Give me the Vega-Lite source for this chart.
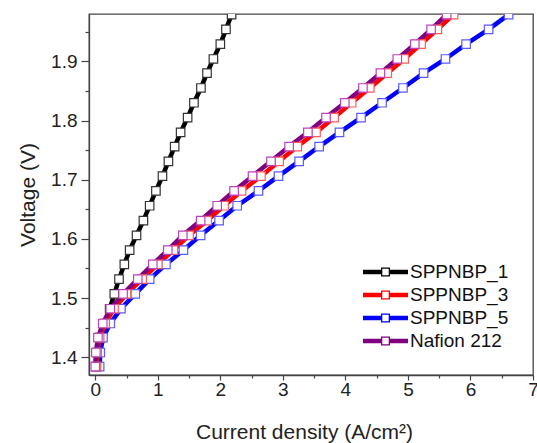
{
  "$schema": "https://vega.github.io/schema/vega-lite/v6.json",
  "width": 444,
  "height": 361,
  "autosize": {"type": "none"},
  "padding": {"left": 89, "top": 14, "right": 4, "bottom": 68},
  "background": "white",
  "config": {
    "view": {"stroke": "#444", "strokeWidth": 1.3},
    "font": "Liberation Sans",
    "axis": {
      "grid": false,
      "domainColor": "#444",
      "domainWidth": 1.3,
      "tickColor": "#444",
      "tickWidth": 1.2,
      "labelFont": "Liberation Sans",
      "labelFontSize": 19,
      "labelColor": "#222",
      "titleFont": "Liberation Sans",
      "titleFontSize": 21,
      "titleFontWeight": "normal",
      "titleColor": "#222"
    }
  },
  "data": {
    "values": [
      {"s": "SPPNBP_1", "j": 0.01, "v": 1.384}, {"s": "SPPNBP_1", "j": 0.03, "v": 1.408}, {"s": "SPPNBP_1", "j": 0.08, "v": 1.433}, {"s": "SPPNBP_1", "j": 0.15, "v": 1.457}, {"s": "SPPNBP_1", "j": 0.23, "v": 1.482}, {"s": "SPPNBP_1", "j": 0.305, "v": 1.507}, {"s": "SPPNBP_1", "j": 0.38, "v": 1.532}, {"s": "SPPNBP_1", "j": 0.465, "v": 1.557}, {"s": "SPPNBP_1", "j": 0.55, "v": 1.581}, {"s": "SPPNBP_1", "j": 0.66, "v": 1.606}, {"s": "SPPNBP_1", "j": 0.77, "v": 1.631}, {"s": "SPPNBP_1", "j": 0.87, "v": 1.656}, {"s": "SPPNBP_1", "j": 0.97, "v": 1.681}, {"s": "SPPNBP_1", "j": 1.075, "v": 1.706}, {"s": "SPPNBP_1", "j": 1.17, "v": 1.731}, {"s": "SPPNBP_1", "j": 1.27, "v": 1.756}, {"s": "SPPNBP_1", "j": 1.365, "v": 1.78}, {"s": "SPPNBP_1", "j": 1.477, "v": 1.805}, {"s": "SPPNBP_1", "j": 1.578, "v": 1.83}, {"s": "SPPNBP_1", "j": 1.69, "v": 1.855}, {"s": "SPPNBP_1", "j": 1.787, "v": 1.88}, {"s": "SPPNBP_1", "j": 1.889, "v": 1.904}, {"s": "SPPNBP_1", "j": 2.0, "v": 1.929}, {"s": "SPPNBP_1", "j": 2.09, "v": 1.954}, {"s": "SPPNBP_1", "j": 2.18, "v": 1.979},
      {"s": "SPPNBP_5", "j": 0.07, "v": 1.384}, {"s": "SPPNBP_5", "j": 0.08, "v": 1.408}, {"s": "SPPNBP_5", "j": 0.124, "v": 1.433}, {"s": "SPPNBP_5", "j": 0.24, "v": 1.457}, {"s": "SPPNBP_5", "j": 0.41, "v": 1.482}, {"s": "SPPNBP_5", "j": 0.64, "v": 1.507}, {"s": "SPPNBP_5", "j": 0.87, "v": 1.532}, {"s": "SPPNBP_5", "j": 1.13, "v": 1.557}, {"s": "SPPNBP_5", "j": 1.41, "v": 1.581}, {"s": "SPPNBP_5", "j": 1.685, "v": 1.606}, {"s": "SPPNBP_5", "j": 1.98, "v": 1.631}, {"s": "SPPNBP_5", "j": 2.27, "v": 1.656}, {"s": "SPPNBP_5", "j": 2.61, "v": 1.681}, {"s": "SPPNBP_5", "j": 2.93, "v": 1.706}, {"s": "SPPNBP_5", "j": 3.26, "v": 1.731}, {"s": "SPPNBP_5", "j": 3.58, "v": 1.756}, {"s": "SPPNBP_5", "j": 3.905, "v": 1.78}, {"s": "SPPNBP_5", "j": 4.25, "v": 1.805}, {"s": "SPPNBP_5", "j": 4.586, "v": 1.83}, {"s": "SPPNBP_5", "j": 4.92, "v": 1.855}, {"s": "SPPNBP_5", "j": 5.25, "v": 1.88}, {"s": "SPPNBP_5", "j": 5.6, "v": 1.904}, {"s": "SPPNBP_5", "j": 5.93, "v": 1.929}, {"s": "SPPNBP_5", "j": 6.29, "v": 1.954}, {"s": "SPPNBP_5", "j": 6.61, "v": 1.979},
      {"s": "SPPNBP_3", "j": 0.02, "v": 1.384}, {"s": "SPPNBP_3", "j": 0.03, "v": 1.408}, {"s": "SPPNBP_3", "j": 0.07, "v": 1.433}, {"s": "SPPNBP_3", "j": 0.16, "v": 1.457}, {"s": "SPPNBP_3", "j": 0.3, "v": 1.482}, {"s": "SPPNBP_3", "j": 0.5, "v": 1.507}, {"s": "SPPNBP_3", "j": 0.75, "v": 1.532}, {"s": "SPPNBP_3", "j": 1.0, "v": 1.557}, {"s": "SPPNBP_3", "j": 1.25, "v": 1.581}, {"s": "SPPNBP_3", "j": 1.5, "v": 1.606}, {"s": "SPPNBP_3", "j": 1.79, "v": 1.631}, {"s": "SPPNBP_3", "j": 2.06, "v": 1.656}, {"s": "SPPNBP_3", "j": 2.34, "v": 1.681}, {"s": "SPPNBP_3", "j": 2.65, "v": 1.706}, {"s": "SPPNBP_3", "j": 2.94, "v": 1.731}, {"s": "SPPNBP_3", "j": 3.23, "v": 1.756}, {"s": "SPPNBP_3", "j": 3.53, "v": 1.78}, {"s": "SPPNBP_3", "j": 3.82, "v": 1.805}, {"s": "SPPNBP_3", "j": 4.1, "v": 1.83}, {"s": "SPPNBP_3", "j": 4.39, "v": 1.855}, {"s": "SPPNBP_3", "j": 4.67, "v": 1.88}, {"s": "SPPNBP_3", "j": 4.94, "v": 1.904}, {"s": "SPPNBP_3", "j": 5.21, "v": 1.929}, {"s": "SPPNBP_3", "j": 5.47, "v": 1.954}, {"s": "SPPNBP_3", "j": 5.73, "v": 1.979},
      {"s": "Nafion 212", "j": 0.0, "v": 1.384}, {"s": "Nafion 212", "j": 0.01, "v": 1.408}, {"s": "Nafion 212", "j": 0.043, "v": 1.433}, {"s": "Nafion 212", "j": 0.12, "v": 1.457}, {"s": "Nafion 212", "j": 0.24, "v": 1.482}, {"s": "Nafion 212", "j": 0.445, "v": 1.507}, {"s": "Nafion 212", "j": 0.68, "v": 1.532}, {"s": "Nafion 212", "j": 0.92, "v": 1.557}, {"s": "Nafion 212", "j": 1.16, "v": 1.581}, {"s": "Nafion 212", "j": 1.4, "v": 1.606}, {"s": "Nafion 212", "j": 1.685, "v": 1.631}, {"s": "Nafion 212", "j": 1.95, "v": 1.656}, {"s": "Nafion 212", "j": 2.22, "v": 1.681}, {"s": "Nafion 212", "j": 2.515, "v": 1.706}, {"s": "Nafion 212", "j": 2.81, "v": 1.731}, {"s": "Nafion 212", "j": 3.1, "v": 1.756}, {"s": "Nafion 212", "j": 3.4, "v": 1.78}, {"s": "Nafion 212", "j": 3.69, "v": 1.805}, {"s": "Nafion 212", "j": 3.99, "v": 1.83}, {"s": "Nafion 212", "j": 4.28, "v": 1.855}, {"s": "Nafion 212", "j": 4.56, "v": 1.88}, {"s": "Nafion 212", "j": 4.83, "v": 1.904}, {"s": "Nafion 212", "j": 5.11, "v": 1.929}, {"s": "Nafion 212", "j": 5.37, "v": 1.954}, {"s": "Nafion 212", "j": 5.62, "v": 1.979}
    ]
  },
  "resolve": {"axis": {"x": "independent", "y": "independent"}},
  "layer": [
    {
      "mark": {"type": "line", "strokeWidth": 4.5, "clip": true},
      "encoding": {
        "x": {
          "field": "j", "type": "quantitative",
          "scale": {"domain": [-0.1, 7], "nice": false, "zero": false},
          "axis": {"orient": "bottom", "title": "Current density (A/cm²)", "values": [0, 1, 2, 3, 4, 5, 6, 7], "format": "d", "tickSize": 5, "labelPadding": 0, "titlePadding": 22, "titleX": 215, "labelFlush": false}
        },
        "y": {
          "field": "v", "type": "quantitative",
          "scale": {"domain": [1.37, 1.98], "nice": false, "zero": false},
          "axis": {"orient": "left", "title": "Voltage (V)", "values": [1.4, 1.5, 1.6, 1.7, 1.8, 1.9], "format": ".1f", "tickSize": 8, "labelPadding": 4, "titlePadding": 12, "labelFlush": false}
        },
        "color": {
          "field": "s", "type": "nominal",
          "scale": {"domain": ["SPPNBP_1", "SPPNBP_3", "SPPNBP_5", "Nafion 212"], "range": ["#000000", "#ff0000", "#0000ff", "#800080"]},
          "legend": {
            "title": null,
            "orient": "bottom-right",
            "offset": 24,
            "labelFont": "Liberation Sans",
            "labelFontSize": 19,
            "labelColor": "#111",
            "symbolType": "M-1,-0.22H0.8V0.22H-1Z M1.7,-0.22H3.5V0.22H1.7Z M0.8,-0.45H1.7V0.45H0.8Z M0.93,-0.32V0.32H1.57V-0.32Z",
            "symbolSize": 400,
            "symbolStrokeWidth": 0,
            "labelOffset": 27,
            "rowPadding": 3,
            "padding": 0,
            "encode": {"symbols": {"update": {"fill": {"scale": "color", "field": "value"}, "stroke": {"value": "transparent"}, "strokeWidth": {"value": 0}}}}
          }
        }
      }
    },
    {
      "mark": {"type": "point", "shape": "square", "size": 72, "filled": true, "fill": "white", "strokeWidth": 1.2, "opacity": 1, "clip": true},
      "encoding": {
        "x": {
          "field": "j", "type": "quantitative",
          "axis": {"orient": "bottom", "title": null, "values": [0.5, 1.5, 2.5, 3.5, 4.5, 5.5, 6.5], "labels": false, "domain": false, "tickSize": 3}
        },
        "y": {
          "field": "v", "type": "quantitative",
          "axis": {"orient": "left", "title": null, "values": [1.45, 1.55, 1.65, 1.75, 1.85, 1.95], "labels": false, "domain": false, "tickSize": 4}
        },
        "stroke": {
          "field": "s", "type": "nominal",
          "scale": {"domain": ["SPPNBP_1", "SPPNBP_3", "SPPNBP_5", "Nafion 212"], "range": ["#333333", "#ff5a5a", "#5a5aff", "#c040c0"]},
          "legend": null
        }
      }
    }
  ]
}
